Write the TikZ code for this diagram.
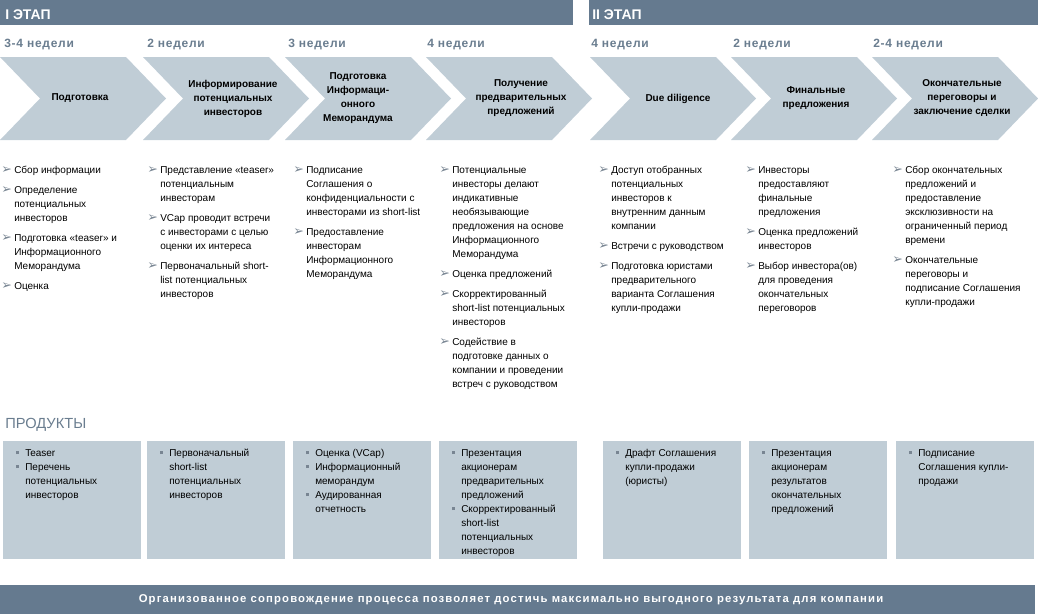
\documentclass[tikz,border=0pt]{standalone}
\usepackage{fontspec}
\setmainfont{Liberation Sans}
\newfontfamily\dejavu{DejaVu Sans}
\newfontfamily\spaced[LetterSpace=6]{Liberation Sans}
\newfontfamily\widefont[LetterSpace=10]{Liberation Sans}
\usepackage{tikz}
\usetikzlibrary{positioning}
\definecolor{barblue}{RGB}{101,122,143}
\definecolor{chevgray}{RGB}{192,205,214}
\definecolor{weekblue}{RGB}{106,125,143}
\definecolor{bulgray}{RGB}{120,133,146}
\newcommand{\arr}{\strut\llap{\raisebox{-0.3pt}{\dejavu\color{bulgray}\fontsize{9.5}{9.5}\selectfont ➢}\hspace{1.8pt}}}
\newcommand{\sq}{\strut\llap{\textcolor{bulgray}{\rule[1.4pt]{2.2pt}{2.2pt}}\hspace{5pt}}}
\tikzstyle{head} = [anchor=base west, inner sep=0, text=white, font=\bfseries\fontsize{10.5}{12}\selectfont]
\tikzstyle{week} = [anchor=base west, inner sep=0, text=weekblue, font=\spaced\bfseries\fontsize{9}{11}\selectfont]
\tikzstyle{chev} = [align=center, inner sep=0, font=\bfseries\fontsize{7.5}{10.5}\selectfont]
\tikzstyle{lst} = [anchor=north west, inner sep=0, align=left, font=\fontsize{7.5}{10.5}\selectfont]
\tikzstyle{prodbox} = [fill=chevgray, anchor=north west, inner sep=0, minimum width=103.5pt, minimum height=88.5pt]

\begin{document}
\begin{tikzpicture}[x=0.75pt,y=-0.75pt]
    \useasboundingbox (0,0) rectangle (1038,614);

    %stages
    \fill[barblue] (0,0) rectangle (573,25);
    \fill[barblue] (589,0) rectangle (1038,25);
    \node[head] (st1) at (5,19) {I ЭТАП};
    \node[head] (st2) at (592,19) {II ЭТАП};

    %weeks
    \foreach \x/\w [count=\i] in {4/3-4 недели,147/2 недели,288/3 недели,427/4 недели,591/4 недели,733/2 недели,873/2-4 недели}
      \node[week] (w\i) at (\x,47) {\w};

    %chevrons
    \foreach \x in {0,143,285,426,590,731,872}
      \fill[chevgray] (\x,57) -- (\x+126,57) -- (\x+166,98.5) -- (\x+126,140) -- (\x,140) -- (\x+40,98.5) -- cycle;
    \node[chev] (c1) at (80,98.5) {Подготовка};
    \node[chev] (c2) at (233,98.5) {Информирование\\потенциальных\\инвесторов};
    \node[chev] (c3) at (358,98.5) {Подготовка\\Информаци-\\онного\\Меморандума};
    \node[chev] (c4) at (521,98.5) {Получение\\предварительных\\предложений};
    \node[chev] (c5) at (678,98.5) {Due diligence};
    \node[chev] (c6) at (816,98.5) {Финальные\\предложения};
    \node[chev] (c7) at (962,98.5) {Окончательные\\переговоры и\\заключение сделки};

    %steps
    \node[lst] (l1) at (14,163) {\arr Сбор информации\\[4.5pt]
      \arr Определение\\потенциальных\\инвесторов\\[4.5pt]
      \arr Подготовка «teaser» и\\Информационного\\Меморандума\\[4.5pt]
      \arr Оценка};
    \node[lst] (l2) at (160,163) {\arr Представление «teaser»\\потенциальным\\инвесторам\\[4.5pt]
      \arr VCap проводит встречи\\с инвесторами с целью\\оценки их интереса\\[4.5pt]
      \arr Первоначальный short-\\list потенциальных\\инвесторов};
    \node[lst] (l3) at (306,163) {\arr Подписание\\Соглашения о\\конфиденциальности с\\инвесторами из short-list\\[4.5pt]
      \arr Предоставление\\инвесторам\\Информационного\\Меморандума};
    \node[lst] (l4) at (452,163) {\arr Потенциальные\\инвесторы делают\\индикативные\\необязывающие\\предложения на основе\\Информационного\\Меморандума\\[4.5pt]
      \arr Оценка предложений\\[4.5pt]
      \arr Скорректированный\\short-list потенциальных\\инвесторов\\[4.5pt]
      \arr Содействие в\\подготовке данных о\\компании и проведении\\встреч с руководством};
    \node[lst] (l5) at (611,163) {\arr Доступ отобранных\\потенциальных\\инвесторов к\\внутренним данным\\компании\\[4.5pt]
      \arr Встречи с руководством\\[4.5pt]
      \arr Подготовка юристами\\предварительного\\варианта Соглашения\\купли-продажи};
    \node[lst] (l6) at (758,163) {\arr Инвесторы\\предоставляют\\финальные\\предложения\\[4.5pt]
      \arr Оценка предложений\\инвесторов\\[4.5pt]
      \arr Выбор инвестора(ов)\\для проведения\\окончательных\\переговоров};
    \node[lst] (l7) at (905,163) {\arr Сбор окончательных\\предложений и\\предоставление\\эксклюзивности на\\ограниченный период\\времени\\[4.5pt]
      \arr Окончательные\\переговоры и\\подписание Соглашения\\купли-продажи};

    %products
    \node[anchor=base west, inner sep=0, text=weekblue, font=\fontsize{11}{13}\selectfont] (prodhead) at (5,428) {ПРОДУКТЫ};
    \foreach \x [count=\i] in {3,147,293,439,603,749,896}
      \node[prodbox] (p\i) at (\x,441) {};
    \node[lst] (t1) at ([shift={(22,5)}]p1.north west) {\sq Teaser\\\sq Перечень\\потенциальных\\инвесторов};
    \node[lst] (t2) at ([shift={(22,5)}]p2.north west) {\sq Первоначальный\\short-list\\потенциальных\\инвесторов};
    \node[lst] (t3) at ([shift={(22,5)}]p3.north west) {\sq Оценка (VCap)\\\sq Информационный\\меморандум\\\sq Аудированная\\отчетность};
    \node[lst] (t4) at ([shift={(22,5)}]p4.north west) {\sq Презентация\\акционерам\\предварительных\\предложений\\\sq Скорректированный\\short-list\\потенциальных\\инвесторов};
    \node[lst] (t5) at ([shift={(22,5)}]p5.north west) {\sq Драфт Соглашения\\купли-продажи\\(юристы)};
    \node[lst] (t6) at ([shift={(22,5)}]p6.north west) {\sq Презентация\\акционерам\\результатов\\окончательных\\предложений};
    \node[lst] (t7) at ([shift={(22,5)}]p7.north west) {\sq Подписание\\Соглашения купли-\\продажи};

    %result
    \fill[barblue] (0,585) rectangle (1035,614);
    \node[text=white, inner sep=0, font=\widefont\bfseries\fontsize{8.5}{10}\selectfont] (res) at (511,600) {Организованное сопровождение процесса позволяет достичь максимально выгодного результата для компании};

\end{tikzpicture}
\end{document}
